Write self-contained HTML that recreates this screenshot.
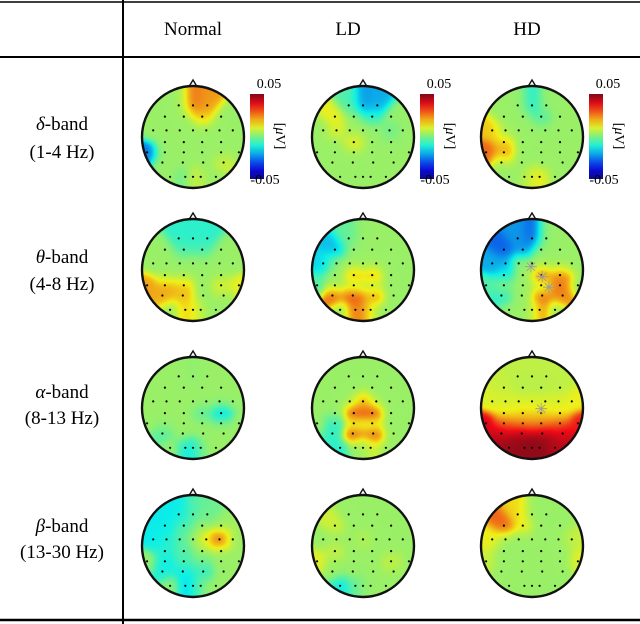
<!DOCTYPE html>
<html><head><meta charset="utf-8"><style>
body{margin:0;background:#fff;}
#wrap{position:relative;width:640px;height:624px;overflow:hidden;font-family:"Liberation Serif",serif;color:#000;}
.t{position:absolute;white-space:nowrap;transform:translate(-50%,-50%);font-size:19px;}
canvas{position:absolute;}
svg{position:absolute;left:0;top:0;}
</style></head><body>
<div id="wrap">
<svg width="640" height="624">
<line x1="0" y1="2" x2="640" y2="2" stroke="#000" stroke-width="1.5"/>
<line x1="0" y1="57" x2="640" y2="57" stroke="#000" stroke-width="2"/>
<line x1="0" y1="620" x2="640" y2="620" stroke="#000" stroke-width="2.5"/>
<line x1="123" y1="0" x2="123" y2="624" stroke="#000" stroke-width="2"/>
</svg>
<div class="t" style="left:193px;top:30px">Normal</div>
<div class="t" style="left:348px;top:30px">LD</div>
<div class="t" style="left:527px;top:30px">HD</div>
<div class="t" style="left:62px;top:125px"><i>δ</i>-band</div>
<div class="t" style="left:62px;top:153px">(1-4 Hz)</div>
<div class="t" style="left:62px;top:258px"><i>θ</i>-band</div>
<div class="t" style="left:62px;top:285px">(4-8 Hz)</div>
<div class="t" style="left:62px;top:393px"><i>α</i>-band</div>
<div class="t" style="left:62px;top:419px">(8-13 Hz)</div>
<div class="t" style="left:62px;top:527px"><i>β</i>-band</div>
<div class="t" style="left:62px;top:553px">(13-30 Hz)</div>
</div>
<script>
// electrode layout (normalized head coords)
const elecRowsY = [-0.62,-0.4,-0.13,0.1,0.3,0.5,0.78];
const elecRowsX = [[-0.28,0,0.28],[-0.55,-0.18,0.18,0.55],[-0.78,-0.52,-0.26,0,0.26,0.52,0.78],[-0.55,-0.18,0.18,0.55],[-0.9,-0.55,-0.18,0.18,0.55,0.9],[-0.6,-0.2,0.2,0.6],[-0.45,-0.15,0,0.15,0.45]];
const bands = ["delta","theta","alpha","beta"];
const groups = ["Normal","LD","HD"];
const baseValue = 0.003;
const colorMin = -0.05, colorMax = 0.05;
// per-head electrode values: [electrodeIndex, µV]; others = baseValue
const deltaNormal = [[1,0.026],[2,0.022],[5,0.016],[18,-0.026],[29,-0.005],[30,0.014],[27,0.009]];
const deltaLD = [[1,-0.022],[2,-0.02],[5,-0.008],[0,-0.005],[3,0.012],[15,0.014],[8,0.012],[12,-0.003]];
const deltaHD = [[18,0.028],[19,0.022],[7,0.017],[14,0.016],[1,-0.01],[5,-0.005],[30,0.012],[31,0.012]];
const thetaNormal = [[0,-0.009],[1,-0.009],[2,-0.009],[4,-0.005],[5,-0.005],[18,0.021],[19,0.021],[20,0.018],[24,0.02],[25,0.018],[29,0.015],[30,0.015],[22,0.012],[23,0.012]];
const thetaLD = [[3,-0.018],[7,-0.015],[18,-0.005],[24,0.03],[25,0.032],[15,0.02],[16,0.02],[26,0.022],[30,0.028],[29,0.024],[0,-0.003]];
const thetaHD = [[0,-0.022],[1,-0.028],[3,-0.028],[7,-0.02],[8,-0.02],[4,-0.022],[14,-0.012],[18,-0.005],[16,0.028],[17,0.024],[26,0.028],[27,0.024],[31,0.026],[22,0.026],[24,-0.01]];
const alphaNormal = [[17,-0.02],[16,-0.005],[30,-0.015],[29,-0.01],[1,0.002],[24,-0.005]];
const alphaLD = [[15,0.036],[16,0.036],[25,0.032],[26,0.03],[10,0.02],[24,-0.008],[19,-0.01],[28,-0.01],[31,0.01]];
const alphaHD = [[18,0.04],[19,0.03],[24,0.044],[25,0.046],[26,0.046],[27,0.042],[28,0.047],[29,0.048],[30,0.048],[31,0.048],[32,0.044],[23,0.036],[1,0.007],[14,0.012],[15,0.015],[16,0.015],[17,0.012],[5,0.006],[4,0.006],[0,0.007],[2,0.007],[3,0.008],[6,0.007],[7,0.01],[20,0.024],[21,0.024],[22,0.03],[8,0.01],[9,0.01],[10,0.01],[11,0.01],[12,0.01],[13,0.012]];
const betaNormal = [[0,-0.013],[3,-0.013],[7,-0.013],[8,-0.011],[12,0.032],[11,0.014],[14,-0.009],[19,-0.013],[24,-0.011],[25,-0.013],[26,-0.009],[29,-0.016],[30,-0.013],[1,-0.005],[2,-0.002],[4,-0.005],[15,-0.005],[9,-0.005],[20,-0.005],[21,-0.002]];
const betaLD = [[28,-0.013],[29,-0.005],[3,0.009],[14,0.009],[18,0.011],[22,0.009],[10,0.006]];
const betaHD = [[3,0.028],[0,0.015],[4,0.012],[7,0.012],[18,0.008],[13,0.008],[23,0.011]];
const headData = [[deltaNormal,deltaLD,deltaHD],[thetaNormal,thetaLD,thetaHD],[alphaNormal,alphaLD,alphaHD],[betaNormal,betaLD,betaHD]];
// significance markers
const starRows = [1,1,1,2];
const starCols = [2,2,2,2];
const starX = [-0.02,0.2,0.33,0.18];
const starY = [-0.05,0.15,0.35,0.03];

const colX = [193,363,532];
const rowY = [137,270,408,546];
const R = 51;
const SIG2 = 0.035;
const wrap = document.getElementById('wrap');
const NS = 'http://www.w3.org/2000/svg';

const elecs = [];
elecRowsY.forEach((y,i)=>elecRowsX[i].forEach(x=>elecs.push([x,y])));

function jet(t){
  t=Math.max(0,Math.min(1,t));
  const c=v=>Math.max(0,Math.min(1,1.5-Math.abs(v)));
  let r=c(4*t-3),g=c(4*t-2),b=c(4*t-1);
  return [Math.round((r*0.92+0.05)*255*0.97),Math.round((g*0.9+0.04)*255),Math.round((b*0.86+0.1)*255*0.95)];
}
function toT(v){return (v-colorMin)/(colorMax-colorMin);}

function drawHead(ri,ci){
  const cx=colX[ci], cy=rowY[ri];
  const vals=elecs.map(()=>baseValue);
  headData[ri][ci].forEach(p=>{vals[p[0]]=p[1];});
  const cv=document.createElement('canvas');
  const S=2*R+2;
  cv.width=S;cv.height=S;
  cv.style.left=(cx-R-1)+'px';cv.style.top=(cy-R-1)+'px';
  
  
  const ctx=cv.getContext('2d');
  const img=ctx.createImageData(S,S);
  for(let py=0;py<S;py++)for(let px=0;px<S;px++){
    const nx=(px-R-1)/R, ny=(py-R-1)/R;
    if(nx*nx+ny*ny>1.0)continue;
    let sw=0,sv=0;
    for(let k=0;k<elecs.length;k++){
      const dx=nx-elecs[k][0],dy=ny-elecs[k][1];
      const w=Math.exp(-(dx*dx+dy*dy)/SIG2);
      sw+=w;sv+=w*vals[k];
    }
    const col=jet(toT(sv/sw));
    const o=(py*S+px)*4;
    img.data[o]=col[0];img.data[o+1]=col[1];img.data[o+2]=col[2];img.data[o+3]=255;
  }
  ctx.putImageData(img,0,0);
  wrap.appendChild(cv);
  const svg=document.createElementNS(NS,'svg');
  svg.setAttribute('width','640');svg.setAttribute('height','624');
  
  
  let h='<circle cx="'+cx+'" cy="'+cy+'" r="'+R+'" fill="none" stroke="#111" stroke-width="2.4"/>';
  h+='<path d="M'+(cx-4)+' '+(cy-R+0.5)+' L'+cx+' '+(cy-R-6)+' L'+(cx+4)+' '+(cy-R+0.5)+'" fill="none" stroke="#111" stroke-width="1.4"/>';
  elecs.forEach(e=>{h+='<circle cx="'+(cx+e[0]*R).toFixed(1)+'" cy="'+(cy+e[1]*R).toFixed(1)+'" r="1.1" fill="#000"/>';});
  for(let s=0;s<starRows.length;s++){
    if(starRows[s]===ri&&starCols[s]===ci){
      h+='<text x="'+(cx+starX[s]*R).toFixed(1)+'" y="'+(cy+starY[s]*R+5).toFixed(1)+'" font-size="16" fill="#999" text-anchor="middle" font-family="DejaVu Sans">✳</text>';
    }
  }
  svg.innerHTML=h;
  wrap.appendChild(svg);
}
for(let r=0;r<4;r++)for(let c=0;c<3;c++)drawHead(r,c);

// colorbars (row 1)
const cbX=[250,420,589];
cbX.forEach((x,i)=>{
  const svg=document.createElementNS(NS,'svg');
  svg.setAttribute('width','640');svg.setAttribute('height','624');
  
  
  let stops='';
  for(let k=0;k<=10;k++){const c=jet(1-k/10);stops+='<stop offset="'+(k*10)+'%" stop-color="rgb('+c.join(',')+')"/>';}
  svg.innerHTML='<defs><linearGradient id="cg'+i+'" x1="0" y1="0" x2="0" y2="1">'+stops+'</linearGradient></defs>'+
   '<rect x="'+x+'" y="94" width="14" height="85" fill="url(#cg'+i+')"/>'+
   '<text x="'+(x+19)+'" y="88" font-size="14" font-family="Liberation Serif" text-anchor="middle">0.05</text>'+
   '<text x="'+(x+15)+'" y="184" font-size="14" font-family="Liberation Serif" text-anchor="middle">-0.05</text>'+
   '<text transform="translate('+(x+26)+',136) rotate(90)" font-size="14" font-family="Liberation Serif" text-anchor="middle">[<tspan font-style="italic">μ</tspan>V]</text>';
  wrap.appendChild(svg);
});
</script>
</body></html>
